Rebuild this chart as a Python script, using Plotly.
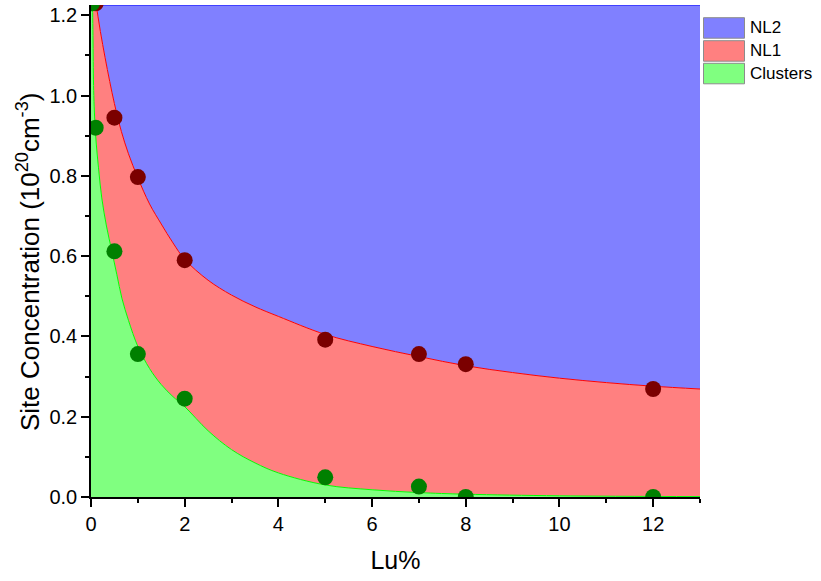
import plotly.graph_objects as go

# ---- data ----
lu_pts = [0.1, 0.5, 1, 2, 5, 7, 8, 12]
total_pts = [1.23, 0.945, 0.797, 0.59, 0.392, 0.356, 0.331, 0.269]
cl_pts_x = [0.02, 0.1, 0.5, 1, 2, 5, 7, 8, 12]
cl_pts = [1.23, 0.92, 0.612, 0.356, 0.245, 0.049, 0.026, 0.0, 0.0]

# fitted boundary curves
nl1_x = [0, 0.1, 0.2, 0.3, 0.4, 0.5, 0.65, 0.8, 1.0, 1.25, 1.5, 1.75, 2.0, 2.5, 3.0,
         3.5, 4.0, 5.0, 6.0, 7.0, 8.0, 9.0, 10.0, 11.0, 12.0, 13.0]
nl1_y = [1.32, 1.235, 1.16, 1.095, 1.035, 0.98, 0.91, 0.855, 0.795, 0.73, 0.68, 0.633,
         0.592, 0.54, 0.503, 0.474, 0.45, 0.405, 0.375, 0.35, 0.327, 0.31, 0.296, 0.285,
         0.276, 0.269]
cl_x = [0, 0.03, 0.06, 0.1, 0.16, 0.23, 0.33, 0.44, 0.55, 0.66, 0.8, 1.0, 1.25, 1.5,
        1.75, 2.0, 2.5, 3.0, 3.5, 4.0, 5.0, 6.0, 7.0, 8.0, 10.0, 13.0]
cl_y = [1.3, 1.23, 1.0, 0.9, 0.82, 0.745, 0.675, 0.615, 0.555, 0.495, 0.44, 0.375, 0.32,
        0.28, 0.25, 0.225, 0.165, 0.118, 0.085, 0.06, 0.03, 0.018, 0.011, 0.007, 0.003,
        0.001]
y_top = 1.2257
x_max = 13

legend_names = ["NL2", "NL1", "Clusters"]
legend_fill = ["#8080FF", "#FF8080", "#80FF80"]
x_title = "Lu%"
y_title = "Site Concentration (10<sup>20</sup>cm<sup>-3</sup>)"

FONT = "Arial, Liberation Sans, sans-serif"

fig = go.Figure()
fig.add_trace(go.Scatter(x=cl_x, y=cl_y, mode="lines", line=dict(color="#00FF00", width=1, shape="spline"),
                         fill="tozeroy", fillcolor="#80FF80", name="Clusters", showlegend=False))
fig.add_trace(go.Scatter(x=nl1_x, y=nl1_y, mode="lines", line=dict(color="#FF0000", width=1, shape="spline"),
                         fill="tonexty", fillcolor="#FF8080", name="NL1", showlegend=False))
fig.add_trace(go.Scatter(x=[0, x_max], y=[y_top, y_top], mode="lines", line=dict(color="#0000FF", width=1),
                         fill="tonexty", fillcolor="#8080FF", name="NL2", showlegend=False))
fig.add_trace(go.Scatter(x=lu_pts, y=total_pts, mode="markers",
                         marker=dict(color="#7B0000", size=16, line=dict(width=0)), showlegend=False))
fig.add_trace(go.Scatter(x=cl_pts_x, y=cl_pts, mode="markers",
                         marker=dict(color="#008000", size=16, line=dict(width=0)), showlegend=False))

W, H = 821, 581
L, R, T, B = 91, 121, 5, 84
pw, ph = W - L - R, H - T - B


def px(xp):
    return (xp - L) / pw


def py(yp):
    return (H - B - yp) / ph


sw_tops = [17.7, 40.7, 63.3]
sw_h = 20.5
shapes = []
annotations = []
for name, col, top in zip(legend_names, legend_fill, sw_tops):
    shapes.append(dict(type="rect", xref="paper", yref="paper", x0=px(703.5), x1=px(744.5),
                       y0=py(top + sw_h), y1=py(top), fillcolor=col,
                       line=dict(color="#8C8C8C", width=1)))
    annotations.append(dict(xref="paper", yref="paper", x=px(748), y=py(top + sw_h / 2),
                            xanchor="left", yanchor="middle", text=name, showarrow=False,
                            font=dict(family=FONT, size=17, color="black")))

# y axis title
annotations.append(dict(xref="paper", yref="paper", x=px(28), y=py(262), xanchor="center",
                        yanchor="middle", textangle=-90, text=y_title, showarrow=False,
                        font=dict(family=FONT, size=26, color="black")))

fig.update_layout(
    width=W, height=H,
    margin=dict(l=L, r=R, t=T, b=B, autoexpand=False),
    paper_bgcolor="white", plot_bgcolor="white",
    font=dict(family=FONT, color="black"),
    shapes=shapes, annotations=annotations,
    showlegend=False,
)
fig.update_xaxes(range=[0, x_max], tickmode="array", tickvals=[0, 2, 4, 6, 8, 10, 12],
                 automargin=False,
                 showgrid=False, zeroline=False, showline=True, linecolor="black", linewidth=1.5,
                 ticks="outside", ticklen=8, tickwidth=1.5, tickcolor="black",
                 tickfont=dict(size=20, family=FONT),
                 minor=dict(tickmode="array", tickvals=[1, 3, 5, 7, 9, 11, 13], ticks="outside",
                            ticklen=4, tickwidth=1.5, tickcolor="black", showgrid=False),
                 title=dict(text=x_title, font=dict(size=25, family=FONT), standoff=18))
fig.update_yaxes(range=[0, y_top], tickmode="array", tickvals=[0, 0.2, 0.4, 0.6, 0.8, 1.0, 1.2],
                 tickformat=".1f", automargin=False,
                 showgrid=False, zeroline=False, showline=True, linecolor="black", linewidth=1.5,
                 ticks="outside", ticklen=8, tickwidth=1.5, tickcolor="black",
                 tickfont=dict(size=20, family=FONT),
                 minor=dict(tickmode="array", tickvals=[0.1, 0.3, 0.5, 0.7, 0.9, 1.1], ticks="outside",
                            ticklen=4, tickwidth=1.5, tickcolor="black", showgrid=False))

fig.write_html("out.html", config={"displayModeBar": False},
               post_script="document.body.style.margin='0px';")
